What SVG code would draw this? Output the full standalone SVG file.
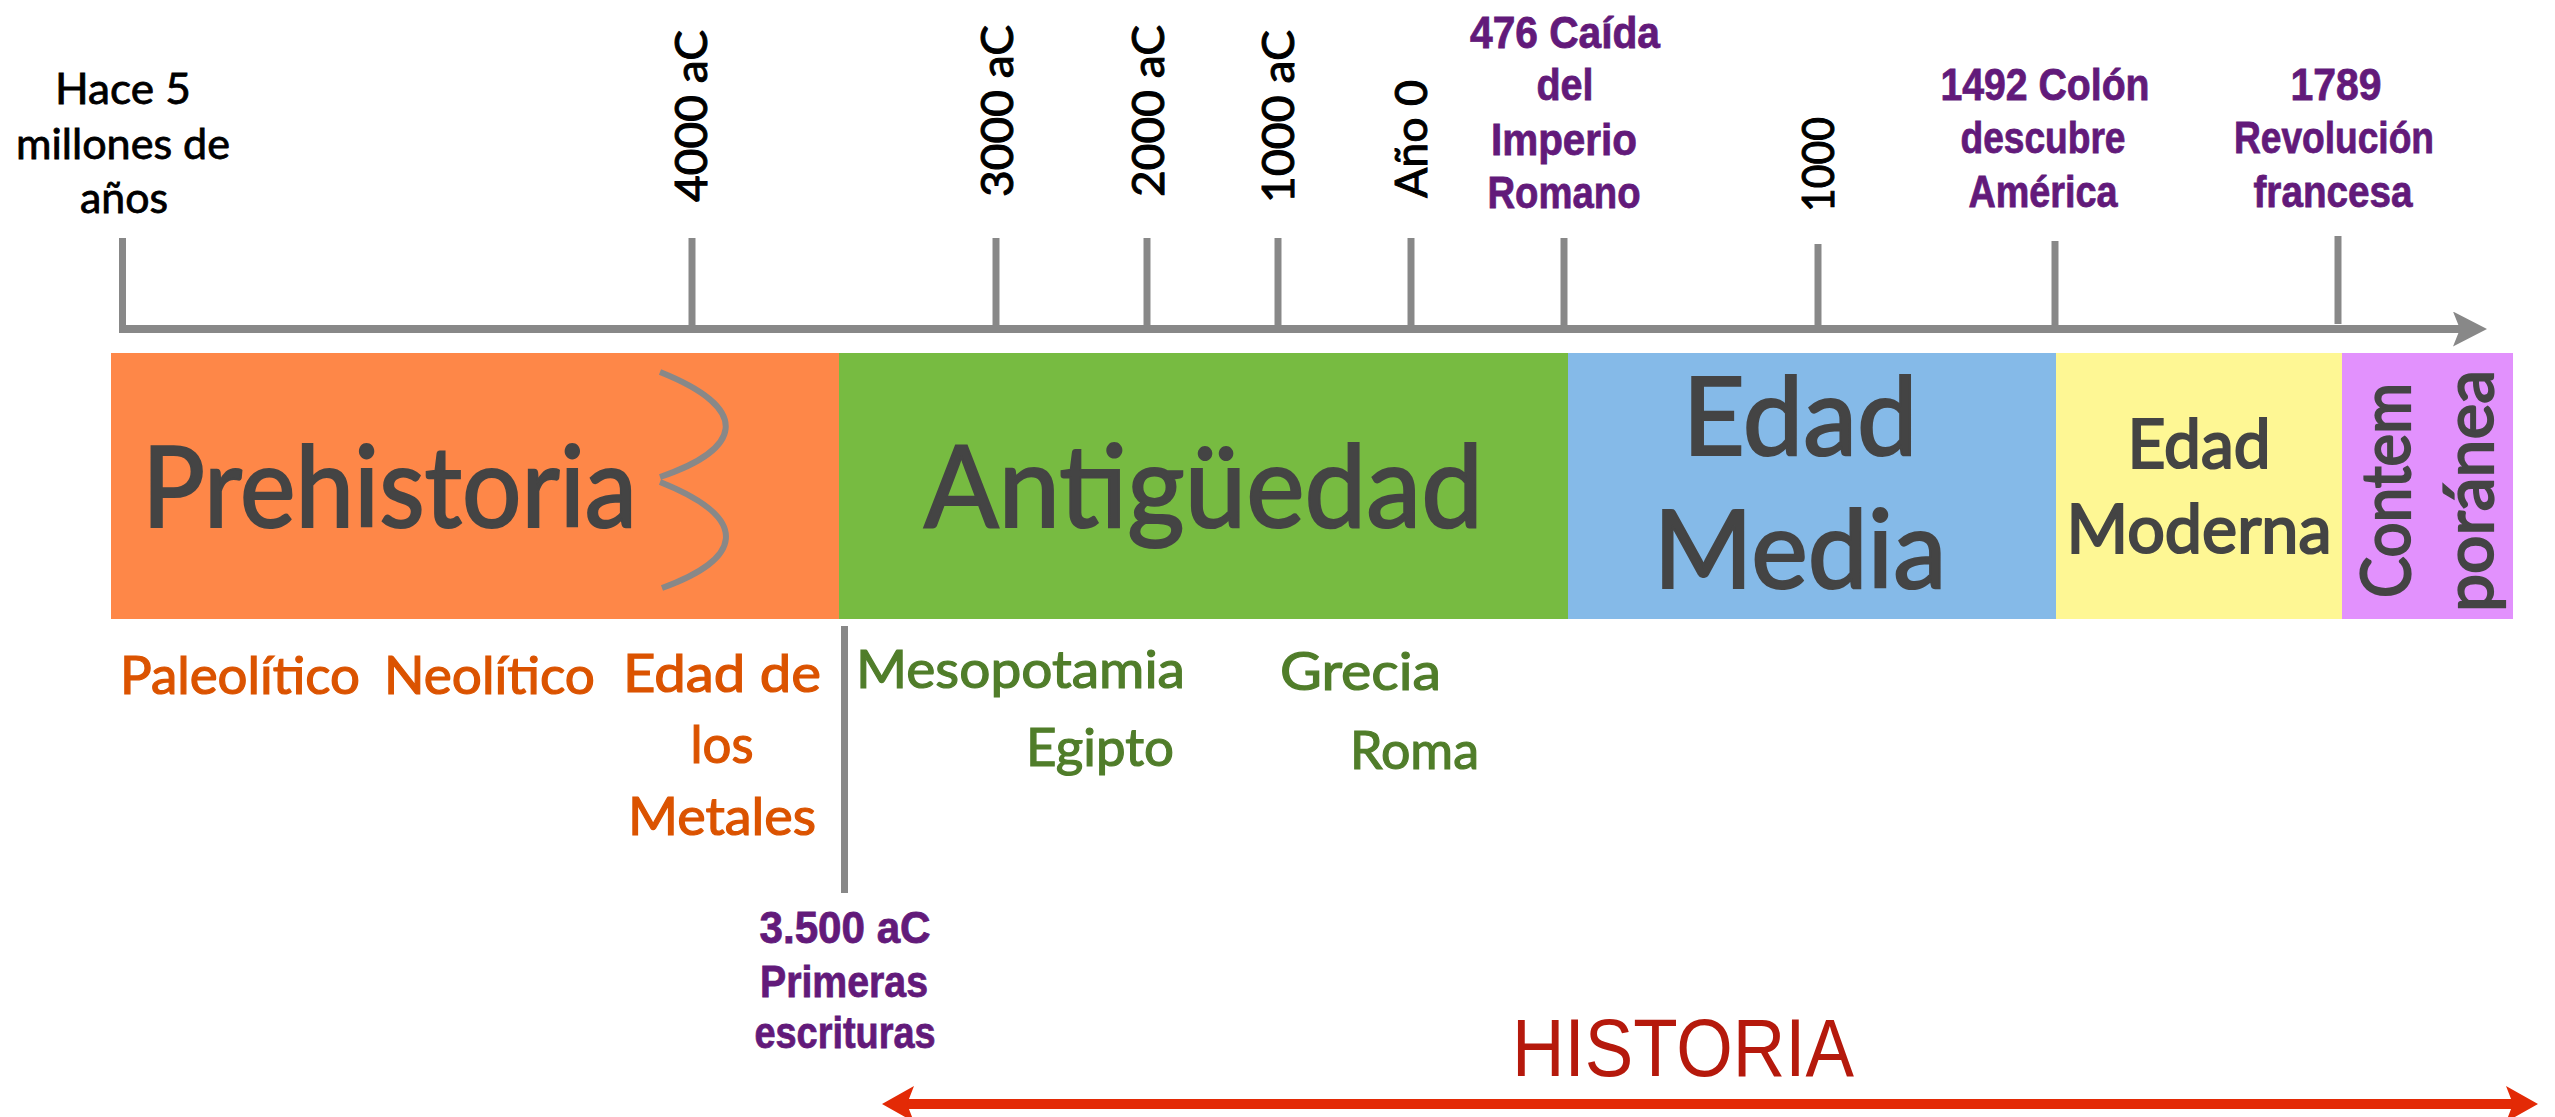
<svg xmlns="http://www.w3.org/2000/svg" width="2555" height="1117" viewBox="0 0 2555 1117">
<defs>
<style>
.lab{font-family:Lato,"Noto Sans","Liberation Sans",sans-serif;stroke:#000000;stroke-width:0.8;}
.big{font-family:Lato,"Noto Sans","Liberation Sans",sans-serif;fill:#444444;stroke:#444444;stroke-width:2.2;}
.num{font-family:Lato,"Noto Sans","Liberation Sans",sans-serif;font-size:45px;fill:#000000;stroke:#000000;stroke-width:1;}
.evt{font-family:"Liberation Sans",Arial,sans-serif;font-weight:bold;font-size:44px;fill:#621A7A;text-anchor:middle;stroke:#621A7A;stroke-width:0.8;}
.pre{font-family:Lato,"Noto Sans","Liberation Sans",sans-serif;font-size:52px;fill:#DB5300;stroke:#DB5300;stroke-width:1.2;}
.ant{font-family:Lato,"Noto Sans","Liberation Sans",sans-serif;font-size:52px;fill:#507D2A;stroke:#507D2A;stroke-width:1.2;}
.axis{stroke:#888888;stroke-width:8;fill:none;}
.tick{stroke:#888888;stroke-width:7;fill:none;}
</style>
<marker id="grayHead" viewBox="0 0 34 35" refX="12" refY="17.5" markerWidth="34" markerHeight="35" markerUnits="userSpaceOnUse" orient="auto">
<path d="M0,0 L34,17.5 L0,35 L7,17.5 Z" fill="#888888"/>
</marker>
<marker id="redHead" viewBox="0 0 32 36" refX="16" refY="18" markerWidth="32" markerHeight="36" markerUnits="userSpaceOnUse" orient="auto-start-reverse">
<path d="M0,0 L32,18 L0,36 L7,18 Z" fill="#E32A06"/>
</marker>
</defs>
<rect width="2555" height="1117" fill="#FFFFFF"/>

<g id="band-prehistoria">
<rect x="111" y="353" width="728" height="266" fill="#FE8748"/>
<text class="big" x="142" y="527" font-size="112" textLength="495" lengthAdjust="spacingAndGlyphs">Prehistoria</text>
<path d="M660,372 C755,410 740,450 660,477 M660,482 C755,520 740,560 662,588" fill="none" stroke="#888888" stroke-width="6"/>
</g>
<g id="band-antiguedad">
<rect x="839" y="353" width="729" height="266" fill="#77BB41"/>
<text class="big" x="924" y="527" font-size="114" textLength="559" lengthAdjust="spacingAndGlyphs">Antigüedad</text>
</g>
<g id="band-media">
<rect x="1568" y="353" width="488" height="266" fill="#85BAE8"/>
<text class="big" x="1800" y="455" font-size="108" text-anchor="middle" textLength="235" lengthAdjust="spacingAndGlyphs">Edad</text>
<text class="big" x="1800" y="588" font-size="108" text-anchor="middle" textLength="293" lengthAdjust="spacingAndGlyphs">Media</text>
</g>
<g id="band-moderna">
<rect x="2056" y="353" width="286" height="266" fill="#FEF794"/>
<text class="big" x="2199" y="468" font-size="68" text-anchor="middle" textLength="143" lengthAdjust="spacingAndGlyphs" stroke-width="1.4">Edad</text>
<text class="big" x="2199" y="553" font-size="68" text-anchor="middle" textLength="265" lengthAdjust="spacingAndGlyphs" stroke-width="1.4">Moderna</text>
</g>
<g id="band-contemporanea">
<rect x="2342" y="353" width="171" height="266" fill="#E291FD"/>
<text class="big" font-size="68" transform="translate(2410,598) rotate(-90)" textLength="215" lengthAdjust="spacingAndGlyphs" stroke-width="1.8">Contem</text>
<text class="big" font-size="68" transform="translate(2493,612) rotate(-90)" textLength="242" lengthAdjust="spacingAndGlyphs" stroke-width="1.8">poránea</text>
</g>

<g id="connectors">
<line class="axis" x1="119" y1="329" x2="2465" y2="329" marker-end="url(#grayHead)"/>
<line class="tick" x1="122.5" y1="238" x2="122.5" y2="333"/>
<line class="tick" x1="692" y1="238" x2="692" y2="329"/>
<line class="tick" x1="996" y1="238" x2="996" y2="329"/>
<line class="tick" x1="1147" y1="238" x2="1147" y2="329"/>
<line class="tick" x1="1278" y1="238" x2="1278" y2="329"/>
<line class="tick" x1="1411" y1="238" x2="1411" y2="329"/>
<line class="tick" x1="1564" y1="238" x2="1564" y2="329"/>
<line class="tick" x1="1818" y1="244" x2="1818" y2="329"/>
<line class="tick" x1="2055" y1="241" x2="2055" y2="329"/>
<line class="tick" x1="2338" y1="236" x2="2338" y2="324"/>
<line class="tick" x1="844.5" y1="626" x2="844.5" y2="893"/>
<line x1="898" y1="1104" x2="2522" y2="1104" stroke="#E32A06" stroke-width="10" marker-start="url(#redHead)" marker-end="url(#redHead)"/>
</g>

<g id="label-hace">
<text class="lab" font-size="42" fill="#000000" text-anchor="middle" x="123" y="104" textLength="136" lengthAdjust="spacingAndGlyphs">Hace 5</text>
<text class="lab" font-size="42" fill="#000000" text-anchor="middle" x="123" y="159" textLength="214" lengthAdjust="spacingAndGlyphs">millones de</text>
<text class="lab" font-size="42" fill="#000000" text-anchor="middle" x="124" y="213" textLength="88" lengthAdjust="spacingAndGlyphs">años</text>
</g>
<g id="label-4000"><text class="num" transform="translate(707,202) rotate(-90)" textLength="172" lengthAdjust="spacingAndGlyphs">4000 aC</text></g>
<g id="label-3000"><text class="num" transform="translate(1013,197) rotate(-90)" textLength="172" lengthAdjust="spacingAndGlyphs">3000 aC</text></g>
<g id="label-2000"><text class="num" transform="translate(1164,197) rotate(-90)" textLength="172" lengthAdjust="spacingAndGlyphs">2000 aC</text></g>
<g id="label-1000ac"><text class="num" transform="translate(1294,203) rotate(-90)" textLength="173" lengthAdjust="spacingAndGlyphs">1000 aC</text></g>
<g id="label-ano0"><text class="num" transform="translate(1427,198) rotate(-90)" textLength="118" lengthAdjust="spacingAndGlyphs">Año 0</text></g>
<g id="label-1000"><text class="num" transform="translate(1834,212) rotate(-90)" textLength="95" lengthAdjust="spacingAndGlyphs">1000</text></g>

<g id="event-476">
<text class="evt" x="1565" y="48" textLength="190" lengthAdjust="spacingAndGlyphs">476 Caída</text>
<text class="evt" x="1565" y="100" textLength="57" lengthAdjust="spacingAndGlyphs">del</text>
<text class="evt" x="1564" y="155" textLength="146" lengthAdjust="spacingAndGlyphs">Imperio</text>
<text class="evt" x="1564" y="208" textLength="153" lengthAdjust="spacingAndGlyphs">Romano</text>
</g>
<g id="event-1492">
<text class="evt" x="2045" y="100" textLength="209" lengthAdjust="spacingAndGlyphs">1492 Colón</text>
<text class="evt" x="2043" y="153" textLength="165" lengthAdjust="spacingAndGlyphs">descubre</text>
<text class="evt" x="2043" y="207" textLength="149" lengthAdjust="spacingAndGlyphs">América</text>
</g>
<g id="event-1789">
<text class="evt" x="2336" y="100" textLength="91" lengthAdjust="spacingAndGlyphs">1789</text>
<text class="evt" x="2334" y="153" textLength="200" lengthAdjust="spacingAndGlyphs">Revolución</text>
<text class="evt" x="2333" y="207" textLength="159" lengthAdjust="spacingAndGlyphs">francesa</text>
</g>
<g id="event-3500">
<text class="evt" x="845" y="943" textLength="171" lengthAdjust="spacingAndGlyphs">3.500 aC</text>
<text class="evt" x="844" y="997" textLength="168" lengthAdjust="spacingAndGlyphs">Primeras</text>
<text class="evt" x="845" y="1048" textLength="181" lengthAdjust="spacingAndGlyphs">escrituras</text>
</g>

<g id="sub-paleolitico"><text class="pre" x="120" y="694" textLength="240" lengthAdjust="spacingAndGlyphs">Paleolítico</text></g>
<g id="sub-neolitico"><text class="pre" x="384" y="694" textLength="211" lengthAdjust="spacingAndGlyphs">Neolítico</text></g>
<g id="sub-metales">
<text class="pre" x="722" y="692" text-anchor="middle" textLength="198" lengthAdjust="spacingAndGlyphs">Edad de</text>
<text class="pre" x="722" y="763" text-anchor="middle" textLength="63" lengthAdjust="spacingAndGlyphs">los</text>
<text class="pre" x="722" y="835" text-anchor="middle" textLength="188" lengthAdjust="spacingAndGlyphs">Metales</text>
</g>
<g id="sub-mesopotamia"><text class="ant" x="856" y="688" textLength="329" lengthAdjust="spacingAndGlyphs">Mesopotamia</text></g>
<g id="sub-egipto"><text class="ant" x="1026" y="766" textLength="148" lengthAdjust="spacingAndGlyphs">Egipto</text></g>
<g id="sub-grecia"><text class="ant" x="1280" y="690" textLength="161" lengthAdjust="spacingAndGlyphs">Grecia</text></g>
<g id="sub-roma"><text class="ant" x="1350" y="769" textLength="129" lengthAdjust="spacingAndGlyphs">Roma</text></g>

<g id="label-historia">
<text x="1683" y="1076" text-anchor="middle" font-family="'Liberation Sans',Arial,sans-serif" font-size="81" fill="#B5190C" textLength="342" lengthAdjust="spacingAndGlyphs">HISTORIA</text>
</g>
</svg>
